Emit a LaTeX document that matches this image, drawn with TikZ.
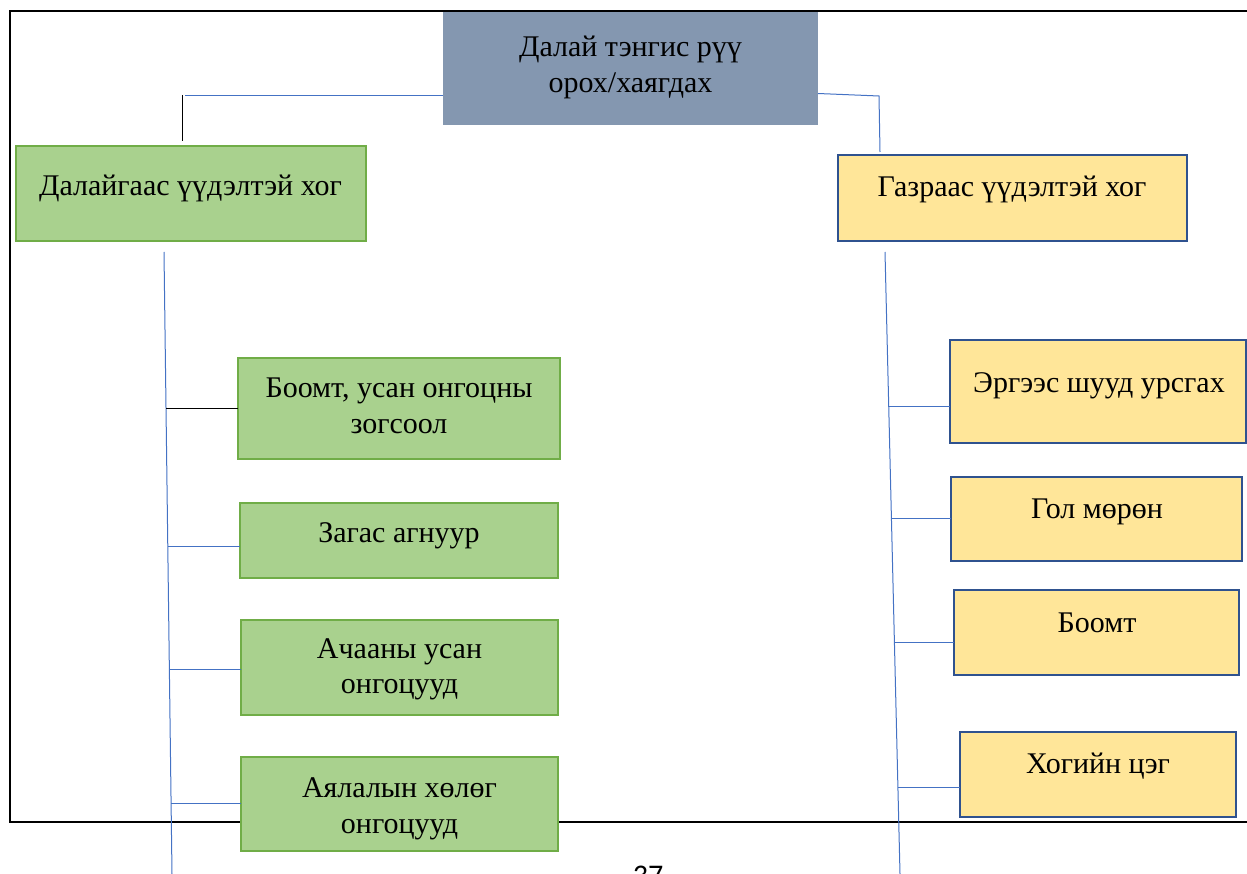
\documentclass[tikz,border=0pt]{standalone}
\usepackage{fontspec}
\setmainfont{Liberation Serif}
\newfontfamily\pagefont{Carlito}
\usetikzlibrary{calc}
\definecolor{topfill}{HTML}{8497B0}
\definecolor{greenfill}{HTML}{A9D18E}
\definecolor{greenedge}{HTML}{70AD47}
\definecolor{yellowfill}{HTML}{FFE699}
\definecolor{yellowedge}{HTML}{2F528F}
\definecolor{linkblue}{HTML}{4472C4}
\begin{document}
\begin{tikzpicture}[x=1pt,y=-1pt,
  frameline/.style={line width=2pt,draw=black},
  link/.style={line width=1pt,draw=linkblue},
  blacklink/.style={line width=1pt,draw=black},
  greenbox/.style={rectangle,draw=greenedge,fill=greenfill,line width=2pt,inner sep=0pt,outer sep=0pt},
  yellowbox/.style={rectangle,draw=yellowedge,fill=yellowfill,line width=2.5pt,inner sep=0pt,outer sep=0pt},
  topbox/.style={rectangle,fill=topfill,inner sep=0pt,outer sep=0pt},
  lbl/.style={anchor=base,inner sep=0pt,font=\fontsize{30}{35}\selectfont}]
\useasboundingbox (0,0) rectangle (1247,874);
\clip (0,0) rectangle (1247,874);
% page frame
\draw[frameline] (1260,11) -- (10,11) -- (10,822) -- (1260,822);
% trunk coordinates
\coordinate (lt) at (164,252);
\coordinate (lb) at (172,874);
\coordinate (rt) at (885,252);
\coordinate (rb) at (900,874);
\coordinate (lk) at (182,95);
\coordinate (lk2) at (182,141);
\coordinate (lh) at (185,96);
\coordinate (rk) at (879,96);
\coordinate (rk2) at (880,152);
% branch points on the trunks
\coordinate (pL1) at ($(lt)!0.2524!(lb)$);
\coordinate (pL2) at ($(lt)!0.4727!(lb)$);
\coordinate (pL3) at ($(lt)!0.6720!(lb)$);
\coordinate (pL4) at ($(lt)!0.8859!(lb)$);
\coordinate (pR1) at ($(rt)!0.2476!(rb)$);
\coordinate (pR2) at ($(rt)!0.4277!(rb)$);
\coordinate (pR3) at ($(rt)!0.6286!(rb)$);
\coordinate (pR4) at ($(rt)!0.8617!(rb)$);
% boxes
\node[topbox, minimum width=375pt, minimum height=113pt] (T) at (630.5,68.5) {};
\node[greenbox, minimum width=350pt, minimum height=95pt] (L0) at (191,193.5) {};
\node[yellowbox, minimum width=349pt, minimum height=86pt] (R0) at (1012.5,198) {};
\node[greenbox, minimum width=322pt, minimum height=101pt] (L1) at (399,408.5) {};
\node[greenbox, minimum width=318pt, minimum height=75pt] (L2) at (399,540.5) {};
\node[greenbox, minimum width=317pt, minimum height=95pt] (L3) at (399.5,667.5) {};
\node[greenbox, minimum width=317pt, minimum height=94pt] (L4) at (399.5,804) {};
\node[yellowbox, minimum width=296pt, minimum height=103pt] (R1) at (1098,391.5) {};
\node[yellowbox, minimum width=291pt, minimum height=84pt] (R2) at (1096.5,519) {};
\node[yellowbox, minimum width=285pt, minimum height=85pt] (R3) at (1096.5,632.5) {};
\node[yellowbox, minimum width=276pt, minimum height=85pt] (R4) at (1098,774.5) {};
% texts
\node[lbl] (tT1) at (630.5,57) {Далай тэнгис рүү};
\node[lbl] (tT2) at (630.5,93) {орох/хаягдах};
\node[lbl] (tL0) at (190.5,196) {Далайгаас үүдэлтэй хог};
\node[lbl] (tR0) at (1012,197) {Газраас үүдэлтэй хог};
\node[lbl] (tL1a) at (399,397) {Боомт, усан онгоцны};
\node[lbl] (tL1b) at (399,433) {зогсоол};
\node[lbl] (tL2) at (399,542) {Загас агнуур};
\node[lbl] (tL3a) at (399.5,658) {Ачааны усан};
\node[lbl] (tL3b) at (399.5,693) {онгоцууд};
\node[lbl] (tL4a) at (399.5,797) {Аялалын хөлөг};
\node[lbl] (tL4b) at (399.5,833) {онгоцууд};
\node[lbl] (tR1) at (1099,392) {Эргээс шууд урсгах};
\node[lbl] (tR2) at (1097,518) {Гол мөрөн};
\node[lbl] (tR3) at (1097,632) {Боомт};
\node[lbl] (tR4) at (1098,773) {Хогийн цэг};
\node[anchor=base,inner sep=0pt,font=\pagefont\fontsize{30}{35}\selectfont] (pg) at (648,885) {37};
% top connectors
\draw[blacklink] (lk) -- (lk2);
\draw[link] (lh) -- (lh -| T.west);
\draw[link] ([yshift=-25pt]T.east) -- (rk) -- (rk2);
% trunks
\draw[link] (lt) -- (lb);
\draw[link] (rt) -- (rb);
% left branches
\draw[blacklink] (pL1) -- (pL1 -| L1.west);
\draw[link] (pL2) -- (pL2 -| L2.west);
\draw[link] (pL3) -- (pL3 -| L3.west);
\draw[link] (pL4) -- (pL4 -| L4.west);
% right branches
\draw[link] (pR1) -- (pR1 -| R1.west);
\draw[link] (pR2) -- (pR2 -| R2.west);
\draw[link] (pR3) -- (pR3 -| R3.west);
\draw[link] (pR4) -- (pR4 -| R4.west);
\end{tikzpicture}
\end{document}
